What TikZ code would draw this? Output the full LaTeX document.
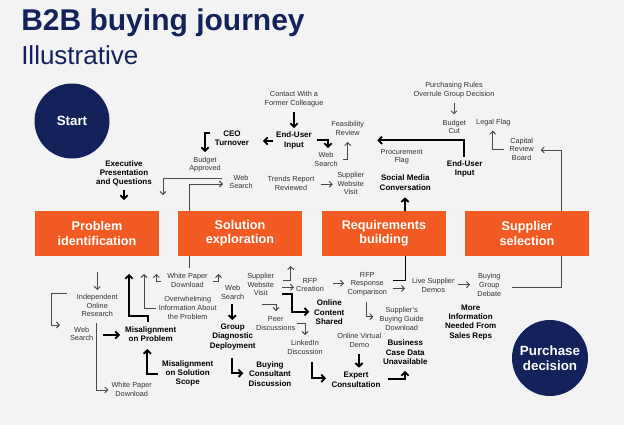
\documentclass[tikz,border=0pt]{standalone}
\usepackage{fontspec}
\setmainfont{Liberation Sans}
\usetikzlibrary{arrows.meta}
\definecolor{navy}{HTML}{13225A}
\definecolor{orng}{HTML}{F15A22}
\definecolor{bg}{HTML}{F3F3F3}
\definecolor{txt}{HTML}{333333}
\definecolor{ln}{HTML}{4A4A4A}
\begin{document}
\begin{tikzpicture}[x=0.75pt,y=-0.75pt,
 sm/.style={font=\fontsize{5.5}{6.5}\selectfont, text=txt, align=center, inner sep=0pt},
 bd/.style={font=\bfseries\fontsize{6}{7}\selectfont, text=black, align=center, inner sep=0pt},
 stage/.style={fill=orng, text=white, font=\bfseries\fontsize{9.5}{10.75}\selectfont, align=center, minimum width=93pt, minimum height=33.75pt, inner sep=0pt},
 endpt/.style={circle, fill=navy, text=white, font=\bfseries\fontsize{10}{11}\selectfont, align=center, inner sep=0pt},
 thn/.style={draw=ln, line width=0.7pt, -{Straight Barb[length=2.2pt,width=4.5pt]}},
 thk/.style={draw=black, line width=1.4pt, -{Straight Barb[length=2.6pt,width=5.5pt]}},
 thnl/.style={draw=ln, line width=0.7pt},
 thkl/.style={draw=black, line width=1.4pt},
]
\fill[bg] (0,0) rectangle (624,425);
\useasboundingbox (0,0) rectangle (624,425);

% title
\node[anchor=base west, inner sep=0pt, text=navy, font=\bfseries\fontsize{22.5}{24}\selectfont] (title) at (21,30) {B2B buying journey};
\node[anchor=base west, inner sep=0pt, text=navy, font=\fontsize{19.5}{22}\selectfont] (subtitle) at (21,64) {Illustrative};

% end points
\node[endpt, minimum size=56.25pt] (start) at (72,121) {Start};
\node[endpt, minimum size=57pt] (purchase) at (550,358) {Purchase\\decision};

% stages
\node[stage] (box1) at (97,233.5) {Problem\\identification};
\node[stage] (box2) at (240,233.5) {Solution\\exploration};
\node[stage] (box3) at (384,233.5) {Requirements\\building};
\node[stage] (box4) at (527,233.5) {Supplier\\selection};

% top labels
\node[sm] (contact) at (294,99) {Contact With a\\Former Colleague};
\node[bd] (eui1) at (294,140.5) {End-User\\Input};
\node[bd] (ceo) at (232,138.5) {CEO\\Turnover};
\node[sm] (budapp) at (205,164.5) {Budget\\Approved};
\node[sm] (ws1) at (326,159.5) {Web\\Search};
\node[sm] (feas) at (347.7,128.5) {Feasibility\\Review};
\node[sm] (trends) at (291,183.3) {Trends Report\\Reviewed};
\node[sm] (swv1) at (350.7,183.5) {Supplier\\Website\\Visit};
\node[sm] (ws2) at (241,182) {Web\\Search};
\node[bd] (exec) at (124,173.3) {Executive\\Presentation\\and Questions};
\node[sm] (purch) at (454,90) {Purchasing Rules\\Overrule Group Decision};
\node[sm] (budcut) at (454.3,127) {Budget\\Cut};
\node[sm] (legal) at (493.3,123) {Legal Flag};
\node[sm] (capital) at (521.7,149.3) {Capital\\Review\\Board};
\node[bd] (eui2) at (464.7,168.7) {End-User\\Input};
\node[sm] (procflag) at (401.7,156.8) {Procurement\\Flag};
\node[bd] (social) at (405.3,182.5) {Social Media\\Conversation};

% bottom labels
\node[sm] (wpd1) at (187.5,280.7) {White Paper\\Download};
\node[sm] (indep) at (97.3,305.7) {Independent\\Online\\Research};
\node[sm] (overw) at (187.7,308) {Overwhelming\\Information About\\the Problem};
\node[sm] (ws3) at (81.7,334) {Web\\Search};
\node[bd] (misprob) at (150.7,334.3) {Misalignment\\on Problem};
\node[sm] (wpd2) at (131.7,389.2) {White Paper\\Download};
\node[bd] (missol) at (187.7,373.3) {Misalignment\\on Solution\\Scope};
\node[sm] (ws4) at (232.7,292.7) {Web\\Search};
\node[bd] (gdd) at (232.7,336.7) {Group\\Diagnostic\\Deployment};
\node[bd] (bcd) at (270,374) {Buying\\Consultant\\Discussion};
\node[sm] (swv2) at (260.7,284.7) {Supplier\\Website\\Visit};
\node[bd] (ocs) at (329.3,312.3) {Online\\Content\\Shared};
\node[sm] (peer) at (275.7,323.3) {Peer\\Discussions};
\node[sm] (linkedin) at (305,347.7) {LinkedIn\\Discussion};
\node[bd] (expert) at (356,379.7) {Expert\\Consultation};
\node[sm] (ovd) at (359.3,340.7) {Online Virtual\\Demo};
\node[sm] (rfpc) at (310,285) {RFP\\Creation};
\node[sm] (rfprc) at (367.3,284.2) {RFP\\Response\\Comparison};
\node[sm] (lsd) at (433.3,285.2) {Live Supplier\\Demos};
\node[sm] (bgd) at (489.3,285) {Buying\\Group\\Debate};
\node[sm] (sbgd) at (401.7,318.9) {Supplier's\\Buying Guide\\Download};
\node[bd] (bcdu) at (405.3,352.4) {Business\\Case Data\\Unavailable};
\node[bd] (more) at (470.7,322.3) {More\\Information\\Needed From\\Sales Reps};

% top connectors
\draw[thk] (contact.center) ++(0,13) -- ++(0,16);
\draw[thk] (eui1.center) ++(-21,0.5) -- ++(-10,0);
\draw[thk] (ceo.center) ++(-22,-5.5) -- ++(-5,0) -- ++(0,19);
\draw[thk] (eui1.center) ++(23,-0.5) -- ++(11,0) -- ++(0,8);
\draw[thn] (ws1.center) ++(17,-0.5) -- ++(4.7,0) -- ++(0,-17);
\draw[thn] (trends.center) ++(30,1) -- ++(11.7,0);
\draw[thn] (ws2.center) ++(-19,-4) -- ++(-59,0) -- ++(0,17);
\draw[thn] (box2.center) ++(-51,-22.5) -- ++(0,-27) -- ++(34,0);
\draw[thk] (exec.center) ++(0,16.7) -- ++(0,10);
\draw[thn] (purch.center) ++(0,13) -- ++(0,11.3);
\draw[thn] (capital.center) ++(-17.7,0) -- ++(-11.3,0) -- ++(0,-18.6);
\draw[thn] (box4.center) ++(34,-22.5) -- ++(0,-61) -- ++(-20.3,0);
\draw[thk] (eui2.center) ++(-0.4,-12) -- ++(0,-16.4) -- ++(-87,0);
\draw[thk] (box3.center) ++(21,-22.5) -- ++(0,-13.7);

% bottom connectors
\draw[thnl] (box2.center) ++(-51,22.5) -- ++(0,12);
\draw[thn] (wpd1.center) ++(-26.8,1) -- ++(-4.4,0) -- ++(0,-7.7);
\draw[thn] (wpd1.center) ++(25.5,1) -- ++(5.5,0) -- ++(0,-7.7);
\draw[thk] (misprob.center) ++(-2.4,-12.6) -- ++(0,-5.7) -- ++(-19.3,0) -- ++(0,-42);
\draw[thn] (overw.center) ++(-32,0.3) -- ++(-11.7,0) -- ++(0,-34.3);
\draw[thn] (box1.center) ++(0.3,38.8) -- ++(0,17.7);
\draw[thn] (indep.center) ++(-30.6,-12.4) -- ++(-15,0) -- ++(0,31.7) -- ++(8.3,0);
\draw[thk] (ws3.center) ++(21,1) -- ++(17.3,0);
\draw[thn] (indep.center) ++(-0.6,17) -- ++(0,67.3) -- ++(11.6,0);
\draw[thk] (missol.center) ++(-29.4,1) -- ++(-11,0) -- ++(0,-25.3);
\draw[thk] (ws4.center) ++(-0.4,11.6) -- ++(0,15.7);
\draw[thk] (gdd.center) ++(-0.4,21) -- ++(0,15.6) -- ++(11,0);
\draw[thn] (swv2.center) ++(22,-4.7) -- ++(8,0) -- ++(0,-14);
\draw[thn] (swv2.center) ++(21.3,2.6) -- ++(12,0);
\draw[thk] (swv2.center) ++(21,9.6) -- ++(10,0) -- ++(0,17.4) -- ++(17.6,0);
\draw[thn] (swv2.center) ++(1.3,19.6) -- ++(14,0) -- ++(0,6.7);
\draw[thn] (peer.center) ++(21,0) -- ++(8.3,0) -- ++(0,11.7);
\draw[thk] (linkedin.center) ++(6.7,14) -- ++(0,16.6) -- ++(14.3,0);
\draw[thk] (ovd.center) ++(-0.3,13.6) -- ++(0,13.4);
\draw[thn] (rfpc.center) ++(22.7,-1.7) -- ++(11.3,0);
\draw[thn] (rfprc.center) ++(-0.6,17.5) -- ++(0,15) -- ++(6.6,0);
\draw[thk] (expert.center) ++(32.3,-0.4) -- ++(16.7,0) -- ++(0,-8.3);
\draw[thkl] (box3.center) ++(21.5,22.5) -- ++(0,24.5) -- ++(-12.2,0);
\draw[thn] (rfprc.center) ++(26,4.3) -- ++(11.7,0);
\draw[thn] (lsd.center) ++(25,-0.5) -- ++(11.7,0);
\draw[thnl] (box4.center) ++(34.7,22.5) -- ++(0,31.3) -- ++(-50,0);
\end{tikzpicture}
\end{document}
